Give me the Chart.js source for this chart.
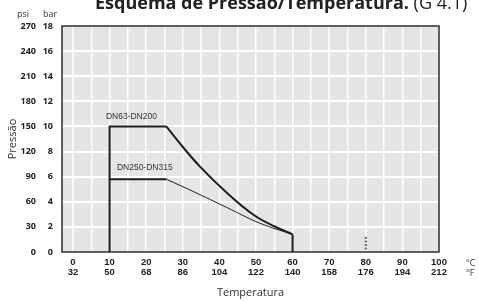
<!DOCTYPE html>
<html>
<head>
<meta charset="utf-8">
<script src="https://cdn.jsdelivr.net/npm/chart.js@4.4.0/dist/chart.umd.min.js"></script>
<style>
  html, body { margin: 0; padding: 0; background: #fff; }
  #wrap { width: 479px; height: 301px; position: relative; }
</style>
</head>
<body>
<div id="wrap"><canvas id="chart" width="479" height="301"></canvas></div>
<script>
// temperature ticks (°C / °F) and pressure ticks (bar / psi)
const tempC = [0, 10, 20, 30, 40, 50, 60, 70, 80, 90, 100];
const tempF = [32, 50, 68, 86, 104, 122, 140, 158, 176, 194, 212];
const gridC = [0, 5, 10, 15, 20, 25, 30, 35, 40, 45, 50, 55, 60, 65, 70, 75, 80, 85, 90, 95, 100];
const barTicks = [0, 2, 4, 6, 8, 10, 12, 14, 16, 18];
const psiTicks = [0, 30, 60, 90, 120, 150, 180, 210, 240, 270];

// DN63-DN200: straight part, then the derating curve
const smallStepC   = [10, 10, 25.5];
const smallStepBar = [0, 10, 10];
const smallCurveC   = [25.5, 29.2, 34.7, 42.1, 49.4, 55, 60];
const smallCurveBar = [10, 8.65, 6.8, 4.7, 2.95, 2.05, 1.4];

// DN250-DN315: straight part, then the derating curve
const largeStepC   = [10, 25.5];
const largeStepBar = [5.8, 5.8];
const largeCurveC   = [25.5, 33, 42, 51, 60];
const largeCurveBar = [5.8, 4.8, 3.55, 2.3, 1.4];

// common drop to zero at 60 °C
const dropC = [60, 60];
const dropBar = [1.4, 0];

// small dashed mark at 80 °C
const markC = [80, 80];
const markBar = [0.2, 1.3];

const curveNames = ['DN63-DN200', 'DN250-DN315'];
const nameAnchors = [[9.0, 10.8], [12.0, 6.7]];

function toPoints(xs, ys) {
  return xs.map((x, i) => ({ x: x, y: ys[i] }));
}

function line(xs, ys, width, extra) {
  return Object.assign({
    data: toPoints(xs, ys),
    showLine: true,
    borderColor: '#1e1e1e',
    borderWidth: width,
    pointRadius: 0,
    fill: false
  }, extra || {});
}

const decor = {
  id: 'decor',
  beforeDraw(chart) {
    const a = chart.chartArea, ctx = chart.ctx;
    ctx.save();
    ctx.fillStyle = '#e5e5e6';
    ctx.fillRect(a.left, a.top, a.right - a.left, a.bottom - a.top);
    ctx.restore();
  },
  afterDatasetsDraw(chart) {
    const a = chart.chartArea, ctx = chart.ctx;
    ctx.save();
    ctx.strokeStyle = '#2a2a2a';
    ctx.lineWidth = 1.5;
    ctx.strokeRect(a.left, a.top, a.right - a.left, a.bottom - a.top);
    // curve names
    ctx.fillStyle = '#333';
    ctx.font = '8.5px "Liberation Sans"';
    ctx.textBaseline = 'middle';
    ctx.textAlign = 'left';
    const xs = chart.scales.x, ys = chart.scales.y;
    curveNames.forEach((n, i) => {
      ctx.fillText(n, xs.getPixelForValue(nameAnchors[i][0]), ys.getPixelForValue(nameAnchors[i][1]));
    });
    ctx.restore();
  },
  afterDraw(chart) {
    const ctx = chart.ctx;
    ctx.save();
    ctx.fillStyle = '#222';
    ctx.textBaseline = 'alphabetic';
    ctx.textAlign = 'left';
    ctx.font = 'bold 18px "Open Sans"';
    const t1 = 'Esquema de Pressão/Temperatura.';
    ctx.fillText(t1, 95, 9);
    const w = ctx.measureText(t1 + ' ').width;
    ctx.font = '18px "Open Sans"';
    ctx.fillText('(G 4.1)', 95 + w, 9);

    ctx.fillStyle = '#333';
    ctx.font = '9px "Open Sans"';
    ctx.textBaseline = 'middle';
    ctx.fillText('psi', 17, 14);
    ctx.fillText('bar', 43, 14);
    ctx.fillText('°C', 466, 263);
    ctx.fillText('°F', 466, 273);
    ctx.restore();
  }
};

const tickFontY = { family: '"Open Sans"', size: 9, weight: 'bold' };
const tickFontX = { family: '"Liberation Sans"', size: 9.5, weight: 'bold', lineHeight: 1.08 };

new Chart(document.getElementById('chart'), {
  type: 'scatter',
  data: {
    datasets: [
      line(smallStepC, smallStepBar, 2),
      line(smallCurveC, smallCurveBar, 2, { tension: 0.4 }),
      line(largeStepC, largeStepBar, 2),
      line(largeCurveC, largeCurveBar, 1, { tension: 0.4 }),
      line(dropC, dropBar, 2),
      line(markC, markBar, 2.5, { borderColor: '#777', borderDash: [2, 1.5] })
    ]
  },
  options: {
    responsive: false,
    animation: false,
    layout: { padding: { top: 26, right: 40, left: 0, bottom: 0 } },
    plugins: { legend: { display: false }, tooltip: { enabled: false } },
    scales: {
      x: {
        type: 'linear', min: -3, max: 100,
        afterBuildTicks: s => { s.ticks = gridC.map(v => ({ value: v })); },
        afterFit: s => { s.height = 49; },
        grid: { color: '#fff', lineWidth: 1.5, drawTicks: false },
        border: { display: false },
        ticks: {
          autoSkip: false, maxRotation: 0, padding: 5, color: '#222', font: tickFontX,
          callback: v => {
            const i = tempC.indexOf(v);
            return i < 0 ? '' : [String(tempC[i]), String(tempF[i])];
          }
        },
        title: { display: true, text: 'Temperatura', color: '#333',
          font: { family: '"Open Sans"', size: 11 }, padding: { top: 0, bottom: 2 } }
      },
      y: {
        position: 'left', weight: 0, min: 0, max: 18,
        afterBuildTicks: s => { s.ticks = barTicks.map(v => ({ value: v })); },
        afterFit: s => { s.width = 19; },
        grid: { color: '#fff', lineWidth: 2, drawTicks: false },
        border: { display: false },
        ticks: { padding: 9, color: '#222', font: tickFontY }
      },
      psi: {
        position: 'left', weight: 1, min: 0, max: 18,
        afterBuildTicks: s => { s.ticks = barTicks.map(v => ({ value: v })); },
        afterFit: s => { s.width = 43; },
        grid: { display: false, drawTicks: false },
        border: { display: false },
        ticks: { padding: 7, color: '#222', font: tickFontY,
          callback: v => psiTicks[barTicks.indexOf(v)] },
        title: { display: true, text: 'Pressão', color: '#333',
          font: { family: '"Open Sans"', size: 11 }, padding: { top: 6, bottom: 0 } }
      }
    }
  },
  plugins: [decor]
});
</script>
</body>
</html>
